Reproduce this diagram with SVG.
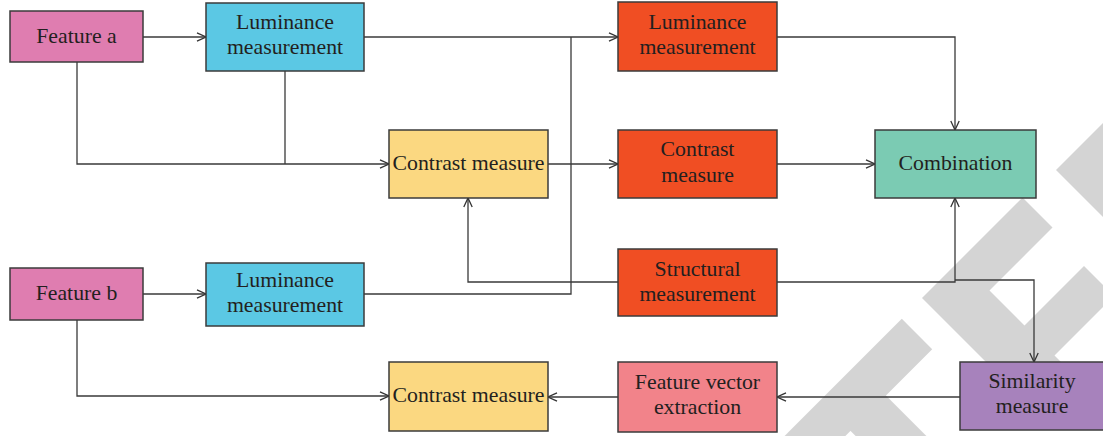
<svg xmlns="http://www.w3.org/2000/svg" width="1103" height="436" viewBox="0 0 1103 436">
  <defs>
    <marker id="arrow" viewBox="0 0 10 10" refX="10" refY="5" markerWidth="10" markerHeight="10" markerUnits="userSpaceOnUse" orient="auto">
      <path d="M1,0.8 L10,5 L1,9.2" fill="none" stroke="#333" stroke-width="1.3"/>
    </marker>
  </defs>
  <style>
    .box { stroke: #3b3b3b; stroke-width: 1.5; }
    .lbl { font-family: 'Liberation Serif', 'DejaVu Serif', serif; font-size: 21.8px; fill: #231f20; text-anchor: middle; }
    .wire { fill: none; stroke: #3a3a3a; stroke-width: 1.3; }
    .arr { marker-end: url(#arrow); }
    .wm { fill: #d4d4d4; }
  </style>

  <rect width="1103" height="436" fill="#ffffff"/>

  <!-- background mark -->
  <g id="backdrop">
    <polygon class="wm" points="1056,170 1160,66 1200,66 1200,274 1160,274"/>
    <polygon class="wm" points="922,298 1022.5,197.5 1052.5,227.5 989.5,290.5 1024.5,325.5 1089.5,390.5 1052,428"/>
    <polygon class="wm" points="1084,266 1114,296 1005,405 975,375"/>
    <line x1="917" y1="334" x2="790" y2="461" stroke="#d4d4d4" stroke-width="43"/>
    <line x1="862" y1="407" x2="940" y2="485" stroke="#d4d4d4" stroke-width="50"/>
  </g>

  <!-- connectors -->
  <g id="connectors">
    <path class="wire arr" d="M143,37 H206"/>
    <path class="wire arr" d="M77,62 V164 H389"/>
    <path class="wire" d="M285,71 V164"/>
    <path class="wire arr" d="M364,37 H618"/>
    <path class="wire" d="M364,294 H571 V37"/>
    <path class="wire arr" d="M548,164 H618"/>
    <path class="wire arr" d="M618,282 H468 V198"/>
    <path class="wire arr" d="M777,37 H955 V130"/>
    <path class="wire arr" d="M777,164 H875"/>
    <path class="wire arr" d="M777,282 H955 V198"/>
    <path class="wire arr" d="M955,280 H1034 V362"/>
    <path class="wire arr" d="M960,397 H777"/>
    <path class="wire arr" d="M618,397 H548"/>
    <path class="wire arr" d="M143,294 H206"/>
    <path class="wire arr" d="M77,320 V396 H389"/>
  </g>

  <g id="feature-a">
    <rect class="box" x="10" y="11" width="133" height="51" fill="#df7db0"/>
    <text class="lbl" x="76.5" y="43">Feature a</text>
  </g>
  <g id="luminance-a">
    <rect class="box" x="206" y="3" width="158" height="68" fill="#5bc8e4"/>
    <text class="lbl" x="285" y="29">Luminance</text>
    <text class="lbl" x="285" y="54">measurement</text>
  </g>
  <g id="contrast-a">
    <rect class="box" x="389" y="130" width="159" height="68" fill="#fbd881"/>
    <text class="lbl" x="468.5" y="170">Contrast measure</text>
  </g>
  <g id="luminance-measurement">
    <rect class="box" x="618" y="2" width="159" height="69" fill="#f04e23"/>
    <text class="lbl" x="697.5" y="29">Luminance</text>
    <text class="lbl" x="697.5" y="54">measurement</text>
  </g>
  <g id="contrast-measurement">
    <rect class="box" x="618" y="130" width="159" height="68" fill="#f04e23"/>
    <text class="lbl" x="697.5" y="156">Contrast</text>
    <text class="lbl" x="697.5" y="182">measure</text>
  </g>
  <g id="structural-measurement">
    <rect class="box" x="618" y="249" width="159" height="67" fill="#f04e23"/>
    <text class="lbl" x="697.5" y="276">Structural</text>
    <text class="lbl" x="697.5" y="301">measurement</text>
  </g>
  <g id="combination">
    <rect class="box" x="875" y="130" width="161" height="68" fill="#7bcbb3"/>
    <text class="lbl" x="955.5" y="170">Combination</text>
  </g>
  <g id="feature-b">
    <rect class="box" x="10" y="268" width="133" height="52" fill="#df7db0"/>
    <text class="lbl" x="76.5" y="300">Feature b</text>
  </g>
  <g id="luminance-b">
    <rect class="box" x="206" y="263" width="158" height="63" fill="#5bc8e4"/>
    <text class="lbl" x="285" y="287">Luminance</text>
    <text class="lbl" x="285" y="312">measurement</text>
  </g>
  <g id="contrast-b">
    <rect class="box" x="389" y="362" width="159" height="69" fill="#fbd881"/>
    <text class="lbl" x="468.5" y="402">Contrast measure</text>
  </g>
  <g id="feature-vector-extraction">
    <rect class="box" x="618" y="362" width="159" height="70" fill="#f2838a"/>
    <text class="lbl" x="697.5" y="389">Feature vector</text>
    <text class="lbl" x="697.5" y="414">extraction</text>
  </g>
  <g id="similarity-measure">
    <rect class="box" x="960" y="362" width="146" height="68" fill="#a782bc"/>
    <text class="lbl" x="1032" y="388">Similarity</text>
    <text class="lbl" x="1032" y="413">measure</text>
  </g>
</svg>
